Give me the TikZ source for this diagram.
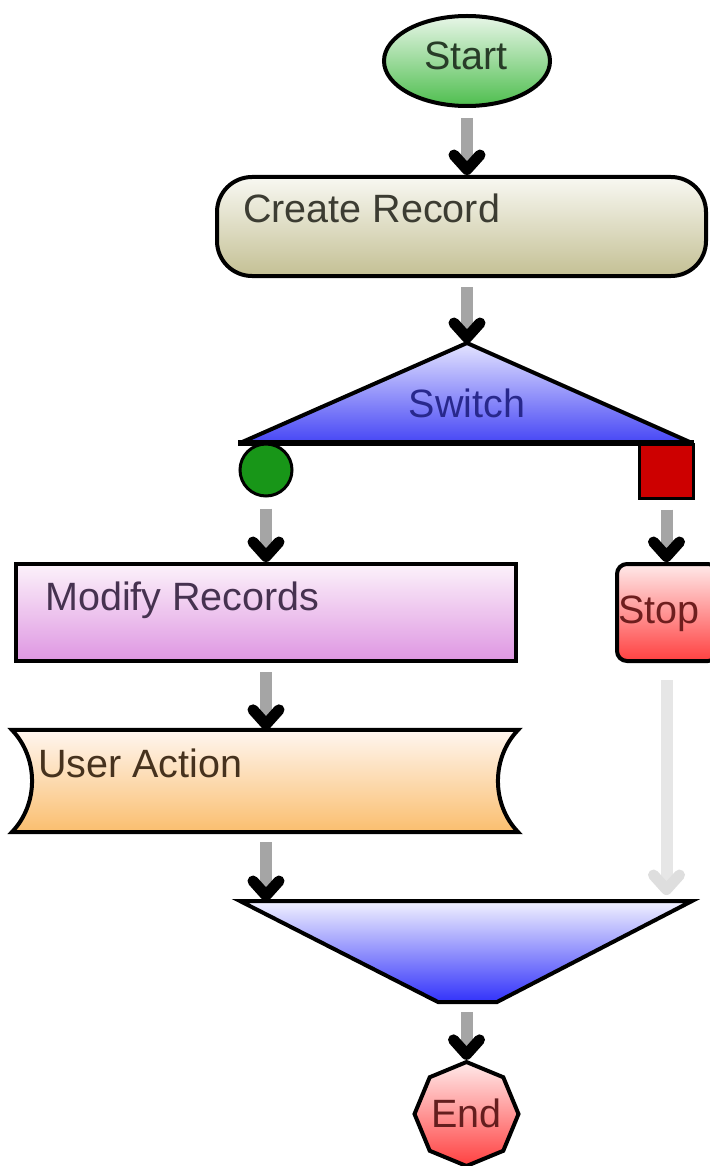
\documentclass[tikz,border=0pt]{standalone}
\usepackage{fontspec}
\setmainfont{Liberation Sans}
\usetikzlibrary{shapes.geometric,decorations.markings}
\definecolor{startT}{RGB}{232,246,232}
\definecolor{startB}{RGB}{78,190,78}
\definecolor{crT}{RGB}{248,248,242}
\definecolor{crB}{RGB}{196,192,148}
\definecolor{swT}{RGB}{228,228,255}
\definecolor{swB}{RGB}{70,70,245}
\definecolor{modT}{RGB}{252,242,250}
\definecolor{modB}{RGB}{222,150,226}
\definecolor{uaT}{RGB}{255,246,240}
\definecolor{uaB}{RGB}{250,190,110}
\definecolor{stopT}{RGB}{255,234,234}
\definecolor{stopB}{RGB}{255,64,64}
\definecolor{mgT}{RGB}{242,242,255}
\definecolor{mgB}{RGB}{50,50,250}
\definecolor{shaftgray}{RGB}{165,165,165}
\definecolor{ghostgray}{RGB}{230,230,230}
\definecolor{ghosthead}{RGB}{222,222,222}
\definecolor{swgreen}{RGB}{24,150,24}
\definecolor{swred}{RGB}{205,0,0}
\definecolor{startTxt}{RGB}{40,60,40}
\definecolor{crTxt}{RGB}{60,60,50}
\definecolor{swTxt}{RGB}{40,40,140}
\definecolor{modTxt}{RGB}{70,50,80}
\definecolor{uaTxt}{RGB}{70,50,30}
\definecolor{stopTxt}{RGB}{110,30,30}
\definecolor{endTxt}{RGB}{100,30,30}
\begin{document}
\begin{tikzpicture}[x=1pt,y=-1pt,
  outline/.style={draw=black, line width=4pt, inner sep=0pt},
  lbl/.style={font=\fontsize{39.5}{42}\selectfont, inner sep=0pt},
  chevron/.style={postaction={decorate, decoration={markings,
      mark=at position 1 with {\draw[#1, line width=11pt, line cap=round, line join=round,
        shorten >=0pt] (-20pt,13pt) -- (-5.5pt,0pt) -- (-20pt,-13pt);}}}},
  conn/.style={draw=shaftgray, line width=12pt, shorten >=10pt, chevron=black},
  ghost/.style={draw=ghostgray, line width=12pt, shorten >=10pt, chevron=ghosthead}]
\useasboundingbox (0,0) rectangle (709,1166);

% shapes
\node[outline, ellipse, minimum width=166pt, minimum height=90pt,
  top color=startT, bottom color=startB] (start) at (467,61) {};
\node[outline, rectangle, rounded corners=35pt, minimum width=489pt, minimum height=99pt,
  top color=crT, bottom color=crB] (create) at (461.5,226.5) {};

\coordinate (swtop) at (467,343);
\coordinate (swl) at (240,443);
\coordinate (swr) at (692,443);
\draw[line width=4pt, line join=round, top color=swT, bottom color=swB]
  (swtop) -- (swr) -- (swl) -- cycle;
\draw[line width=6pt] ([xshift=-2pt]swl) -- ([xshift=2pt]swr);

\node[circle, draw=black, line width=3pt, fill=swgreen, minimum size=52pt, inner sep=0pt]
  (yes) at (266,470) {};
\node[rectangle, draw=black, line width=3pt, fill=swred, minimum size=54pt, inner sep=0pt]
  (no) at (666.5,471) {};

\node[outline, rectangle, minimum width=500pt, minimum height=97pt,
  top color=modT, bottom color=modB] (modify) at (266,612.5) {};
\node[outline, rectangle, rounded corners=10pt, minimum width=101pt, minimum height=97pt,
  top color=stopT, bottom color=stopB] (stop) at (667.5,612.5) {};

\node[minimum width=506pt, minimum height=102pt, inner sep=0pt] (user) at (265,781) {};
\draw[line width=4pt, line join=miter, top color=uaT, bottom color=uaB]
  (user.north west) -- (user.north east)
  .. controls ([xshift=-27pt,yshift=-28pt]user.north east)
     and ([xshift=-27pt,yshift=28pt]user.south east) .. (user.south east)
  -- (user.south west)
  .. controls ([xshift=27pt,yshift=28pt]user.south west)
     and ([xshift=27pt,yshift=-28pt]user.north west) .. (user.north west) -- cycle;

\coordinate (mtl) at (240,901);
\coordinate (mtr) at (692,901);
\coordinate (mbr) at (497,1002);
\coordinate (mbl) at (438,1002);
\draw[line width=4pt, line join=miter, top color=mgT, bottom color=mgB]
  (mtl) -- (mtr) -- (mbr) -- (mbl) -- cycle;

\node[outline, regular polygon, regular polygon sides=8, shape border rotate=22.5,
  minimum size=104pt, top color=stopT, bottom color=stopB] (endn) at (466.5,1114) {};

% labels
\node[lbl, text=startTxt, anchor=base] (startlbl) at (466,70) {Start};
\node[lbl, text=crTxt, anchor=base west] (crlbl) at (243,223) {Create Record};
\node[lbl, text=swTxt, anchor=base] (swlbl) at (467,417) {Switch};
\node[lbl, text=modTxt, anchor=base west] (modlbl) at (45,610) {Modify Records};
\node[lbl, text=stopTxt, anchor=base west] (stoplbl) at (618,623) {Stop};
\node[lbl, text=uaTxt, anchor=base west] (ualbl) at (38,777) {User Action};
\node[lbl, text=endTxt, anchor=base] (endlbl) at (466.5,1127) {End};

% connectors
\draw[conn] ([yshift=-10pt]start.south) -- (start.south |- create.north);
\draw[conn] ([yshift=-9pt]create.south -| swtop) -- (swtop);
\draw[conn] ([yshift=-11pt]yes.south) -- (yes.south |- modify.north);
\draw[conn] ([yshift=-10pt]no.south) -- (no.south |- stop.north);
\draw[conn] ([yshift=-9pt]modify.south -| yes) -- (yes |- user.north);
\draw[conn] ([yshift=-10pt]user.south -| yes) -- (yes |- mtl);
\draw[ghost] ([yshift=-17pt]stop.south -| no) -- ([yshift=6pt]no |- mtl);
\draw[conn] ([yshift=-10pt]mbl -| endn) -- (endn.north);
\end{tikzpicture}
\end{document}
